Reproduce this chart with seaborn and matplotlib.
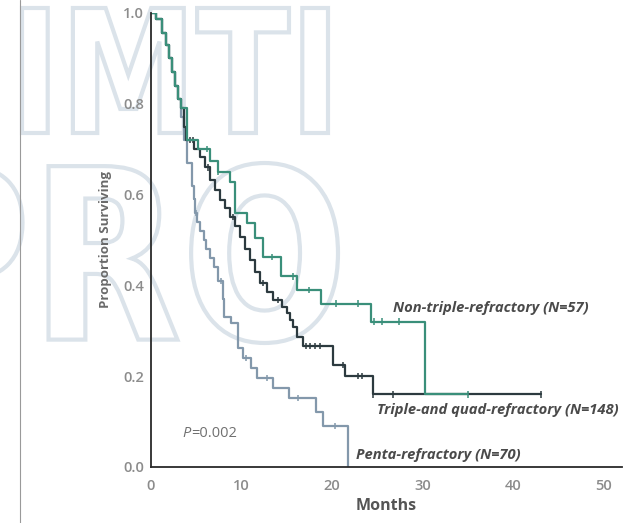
import numpy as np
import pandas as pd
import matplotlib
matplotlib.use("Agg")
import matplotlib.pyplot as plt
import seaborn as sns
from matplotlib.textpath import TextPath
from matplotlib.patches import PathPatch
from matplotlib.font_manager import FontProperties
from matplotlib.transforms import Affine2D

# Kaplan-Meier step data (months, proportion surviving after each drop)
months_non = [0, 0.5, 1.2, 1.7, 2.0, 2.3, 2.6, 3.0, 3.3, 4.0, 5.2, 6.5, 7.4, 8.7,
              9.3, 10.6, 11.5, 12.4, 14.3, 16.1, 18.8, 24.3, 30.2, 35.0]
surv_non = [1.0, .986, .957, .93, .90, .87, .84, .81, .79, .72, .70, .675, .65, .628,
            .56, .537, .504, .463, .42, .39, .36, .32, .16, .16]

months_tq = [0, 0.5, 1.2, 1.7, 2.0, 2.3, 2.6, 3.0, 3.3, 3.6, 3.9, 4.8, 5.4, 6.0, 6.5,
             7.1, 7.6, 8.2, 8.7, 9.3, 9.8, 10.4, 10.9, 11.5, 12.0, 12.8, 13.5, 14.5,
             15.0, 15.4, 15.7, 16.1, 16.8, 20.1, 21.4, 24.5, 43.1]
surv_tq = [1.0, .986, .957, .93, .90, .87, .84, .81, .79, .75, .72, .70, .683, .66, .632,
           .61, .588, .57, .551, .53, .507, .48, .456, .43, .405, .386, .368, .352,
           .339, .324, .308, .286, .266, .225, .20, .16, .16]

months_penta = [0, 0.5, 1.2, 1.7, 2.0, 2.3, 2.6, 3.0, 3.3, 3.6, 4.0, 4.5, 4.7, 4.9, 5.1,
                5.4, 5.8, 6.1, 6.5, 7.0, 7.4, 7.9, 8.1, 8.8, 9.6, 10.2, 11.0, 11.75,
                13.5, 15.2, 18.2, 19.0, 21.7]
surv_penta = [1.0, .986, .957, .93, .90, .87, .84, .81, .77, .72, .67, .62, .59, .56, .54,
              .52, .50, .48, .46, .44, .41, .37, .33, .317, .262, .24, .218, .196,
              .174, .152, .121, .09, 0.0]

# Censored observations
cens_non_t = [6.2, 7.4, 13.4, 15.7, 17.4, 20.4, 22.9, 24.6, 25.5, 27.4, 35.0]
cens_non_s = [.70, .65, .463, .42, .39, .36, .36, .32, .32, .32, .16]
cens_tq_t = [4.3, 4.6, 6.3, 9.0, 12.4, 14.0, 17.1, 17.6, 18.1, 18.7, 21.2, 22.8, 23.3, 24.5, 26.7, 43.1]
cens_tq_s = [.72, .72, .66, .551, .405, .368, .266, .266, .266, .266, .225, .20, .20, .16, .16, .16]
cens_penta_t = [5.0, 7.7, 10.5, 12.8, 16.2, 20.3]
cens_penta_s = [.56, .41, .24, .196, .152, .09]

groups = ["Penta-refractory (N=70)", "Triple-and quad-refractory (N=148)",
          "Non-triple-refractory (N=57)"]
colors = ["#8398ab", "#2c3a3f", "#3a8f7a"]

curves = pd.concat([
    pd.DataFrame({"month": months_penta, "surv": surv_penta, "group": groups[0]}),
    pd.DataFrame({"month": months_tq, "surv": surv_tq, "group": groups[1]}),
    pd.DataFrame({"month": months_non, "surv": surv_non, "group": groups[2]}),
])
censored = pd.concat([
    pd.DataFrame({"month": cens_penta_t, "surv": cens_penta_s, "group": groups[0]}),
    pd.DataFrame({"month": cens_tq_t, "surv": cens_tq_s, "group": groups[1]}),
    pd.DataFrame({"month": cens_non_t, "surv": cens_non_s, "group": groups[2]}),
])

sns.set_theme(style="white")
plt.rcParams["font.family"] = ["Open Sans", "DejaVu Sans"]

W, H = 623, 523
fig = plt.figure(figsize=(W / 100, H / 100), dpi=100)
fig.patch.set_facecolor("white")

# Background layer in pixel coordinates: outlined lettering and page rule
bg = fig.add_axes([0, 0, 1, 1], zorder=0)
bg.set_xlim(0, W)
bg.set_ylim(H, 0)
bg.axis("off")

wm_font = FontProperties(family="DejaVu Sans", weight="bold")


def outline_word(word, x0, y0, x1, y1):
    tp = TextPath((0, 0), word, size=100, prop=wm_font)
    ext = tp.get_extents()
    sx = (x1 - x0) / ext.width
    sy = (y1 - y0) / ext.height
    tr = Affine2D().translate(-ext.x0, -ext.y1).scale(sx, -sy).translate(x0, y0)
    path = tr.transform_path(tp)
    bg.add_patch(PathPatch(path, facecolor="none", edgecolor="#dbe3ea", lw=3.0))


outline_word("IMTI", 22, 8, 328, 133)
outline_word("PRO", -95, 163, 338, 343)
bg.plot([20, 20], [0, H], color="#9a9a9a", lw=0.8)

# Survival plot
ax = fig.add_axes([151 / W, (H - 467) / H, (622 - 151) / W, 454 / H], zorder=2)
ax.set_facecolor("none")

sns.lineplot(data=curves, x="month", y="surv", hue="group", hue_order=groups,
             palette=colors, drawstyle="steps-post", estimator=None, lw=1.6,
             legend=False, ax=ax)
sns.scatterplot(data=censored, x="month", y="surv", hue="group", hue_order=groups,
                palette=colors, marker="|", s=22, linewidth=1.1, legend=False, ax=ax)

ax.set_xlim(0, 52)
ax.set_ylim(0, 1.0)
ax.set_xticks(np.arange(0, 51, 10))
ax.set_yticks(np.arange(0, 1.01, 0.2))
ax.set_yticklabels([f"{v:.1f}" for v in np.arange(0, 1.01, 0.2)])
ax.tick_params(axis="both", direction="out", length=4, width=1, color="#333333",
               labelcolor="#8c8c8c", labelsize=10.5)
for lab in ax.get_xticklabels() + ax.get_yticklabels():
    lab.set_fontweight("semibold")
ax.tick_params(axis="x", pad=5)
ax.tick_params(axis="y", pad=1)

for side in ["top", "right"]:
    ax.spines[side].set_visible(False)
for side in ["left", "bottom"]:
    ax.spines[side].set_color("#2a2a2a")
    ax.spines[side].set_linewidth(1.3)

ax.set_xlabel("Months", fontsize=11.5, fontweight="bold", color="#555555", labelpad=3)
ax.set_ylabel("Proportion Surviving", fontsize=9.5, fontweight="bold", color="#6a6a6a",
              labelpad=8)

lab_kw = dict(fontsize=10.6, fontweight="bold", fontstyle="italic", color="#4a4a4a",
              va="center", ha="left")
ax.text(26.7, 0.35, groups[2], **lab_kw)
ax.text(24.9, 0.125, groups[1], **lab_kw)
ax.text(22.6, 0.026, groups[0], **lab_kw)

# p-value: italic P followed by the value
p_txt = ax.text(3.5, 0.074, "P", fontsize=10.5, fontstyle="italic", color="#707070",
                va="center", ha="left")
ax.annotate("=0.002", xy=(1, 0.5), xycoords=p_txt, fontsize=10.5, color="#707070",
            va="center", ha="left")

fig.savefig("out.png", dpi=100)
